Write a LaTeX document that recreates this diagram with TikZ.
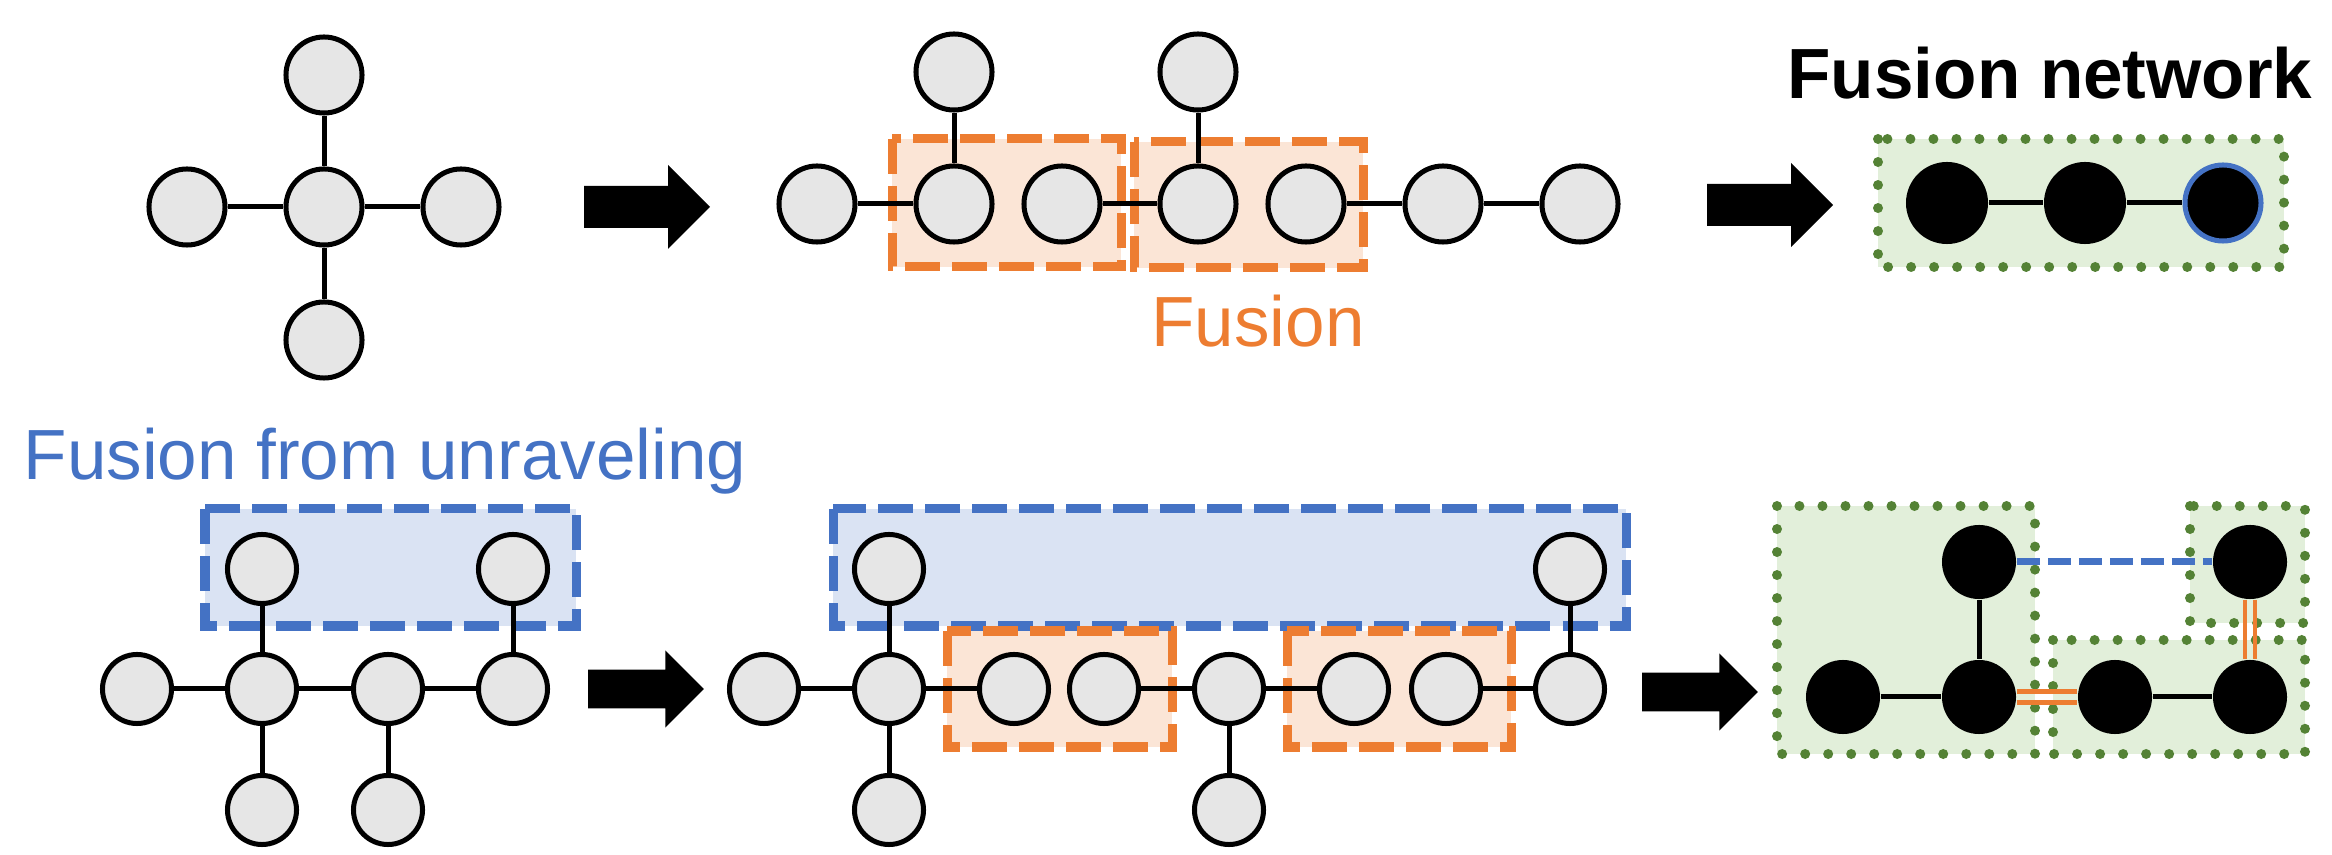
\documentclass[tikz,border=0pt]{standalone}
\usepackage{fontspec}
\setmainfont{Liberation Sans}
\definecolor{orangeC}{HTML}{ED7D31}
\definecolor{orangeF}{HTML}{FBE5D6}
\definecolor{blueC}{HTML}{4472C4}
\definecolor{blueF}{HTML}{DAE3F3}
\definecolor{greenC}{HTML}{548235}
\definecolor{greenF}{HTML}{E2EFDA}
\definecolor{nodegray}{HTML}{E6E6E6}
\begin{document}
\begin{tikzpicture}[x=0.01cm,y=-0.01cm,
  qubit/.style={circle,draw=black,fill=nodegray,line width=0.05cm,minimum size=0.76cm,inner sep=0pt},
  qsmall/.style={qubit,minimum size=0.69cm},
  fnode/.style={circle,fill=black,minimum size=0.82cm,inner sep=0pt},
  fsmall/.style={fnode,minimum size=0.74cm},
  link/.style={line width=0.05cm},
  obox/.style={draw=orangeC,fill=orangeF,line width=0.09cm,dash pattern=on 0.35cm off 0.12cm},
  bbox/.style={draw=blueC,fill=blueF,line width=0.09cm,dash pattern=on 0.35cm off 0.12cm},
  gbox/.style={draw=greenC,fill=greenF,line width=0.1cm,dash pattern=on 0cm off 0.23cm,line cap=round},
  unravel/.style={draw=blueC,line width=0.07cm,dash pattern=on 0.23cm off 0.08cm},
  fuseline/.style={draw=orangeC,line width=0.042cm},
  label/.style={font=\fontsize{20.2}{24}\selectfont,anchor=base,inner sep=0pt},
  barrow/.pic={\fill[black] (0,-21) -- (84,-21) -- (84,-42) -- (126,0) -- (84,42) -- (84,21) -- (0,21) -- cycle;}
]
\useasboundingbox (0,0) rectangle (2332,855);

% ---------- top row: star graph ----------
\node[qubit] (a0) at (324,207) {};
\node[qubit] (aL) at (187,207) {};
\node[qubit] (aR) at (461,207) {};
\node[qubit] (aT) at (324,75) {};
\node[qubit] (aB) at (324,340) {};
\draw[link] (aL) -- (a0) -- (aR);
\draw[link] (aT) -- (a0) -- (aB);

\pic at (584,207) {barrow};

% ---------- top row: unrolled chain with fusions ----------
\draw[obox] (892,139) rectangle (1121,267);
\draw[obox] (1134,142) rectangle (1363,268);
\node[qubit] (c1) at (817,204) {};
\node[qubit] (c2) at (954,204) {};
\node[qubit] (c3) at (1062,204) {};
\node[qubit] (c4) at (1198,204) {};
\node[qubit] (c5) at (1306,204) {};
\node[qubit] (c6) at (1443,204) {};
\node[qubit] (c7) at (1580,204) {};
\node[qubit] (t2) at (954,72) {};
\node[qubit] (t4) at (1198,72) {};
\draw[link] (c1) -- (c2);
\draw[link] (c3) -- (c4);
\draw[link] (c5) -- (c6) -- (c7);
\draw[link] (t2) -- (c2);
\draw[link] (t4) -- (c4);
\node[label,text=orangeC] (lblFusion) at (1258,347) {Fusion};

\pic at (1707,205) {barrow};

% ---------- top row: fusion network ----------
\node[label,font=\fontsize{20.2}{24}\selectfont\bfseries] (lblNet) at (2050,99) {Fusion network};
\draw[gbox] (1878,139) rectangle (2284,267);
\node[fnode] (f1) at (1947,203) {};
\node[fnode] (f2) at (2085,203) {};
\node[fnode,draw=blueC,line width=0.05cm,minimum size=0.76cm] (f3) at (2223,203) {};
\draw[link] (f1) -- (f2) -- (f3);

% ---------- bottom row: tree ----------
\node[label,text=blueC] (lblUnravel) at (385,480) {Fusion from unraveling};
\draw[bbox] (205,509) rectangle (576,626);
\node[qsmall] (m1) at (137,689) {};
\node[qsmall] (m2) at (262,689) {};
\node[qsmall] (m3) at (388,689) {};
\node[qsmall] (m4) at (513,689) {};
\node[qsmall] (u2) at (262,569) {};
\node[qsmall] (u4) at (513,569) {};
\node[qsmall] (d2) at (262,810) {};
\node[qsmall] (d3) at (388,810) {};
\draw[link] (m1) -- (m2) -- (m3) -- (m4);
\draw[link] (u2) -- (m2) -- (d2);
\draw[link] (u4) -- (m4);
\draw[link] (m3) -- (d3);

\pic[scale=0.92] at (588,689) {barrow};

% ---------- bottom row: unraveled tree ----------
\draw[bbox] (833,509) rectangle (1626,626);
\draw[obox] (947,631) rectangle (1172,747);
\draw[obox] (1287,631) rectangle (1511,747);
\node[qsmall] (n1) at (764,689) {};
\node[qsmall] (n2) at (889,689) {};
\node[qsmall] (n3) at (1014,689) {};
\node[qsmall] (n4) at (1104,689) {};
\node[qsmall] (n5) at (1229,689) {};
\node[qsmall] (n6) at (1354,689) {};
\node[qsmall] (n7) at (1446,689) {};
\node[qsmall] (n8) at (1570,689) {};
\node[qsmall] (v2) at (889,569) {};
\node[qsmall] (v8) at (1570,569) {};
\node[qsmall] (w2) at (889,810) {};
\node[qsmall] (w5) at (1229,810) {};
\draw[link] (n1) -- (n2) -- (n3);
\draw[link] (n4) -- (n5) -- (n6);
\draw[link] (n7) -- (n8);
\draw[link] (v2) -- (n2) -- (w2);
\draw[link] (v8) -- (n8);
\draw[link] (n5) -- (w5);

\pic[scale=0.92] at (1642,692) {barrow};

% ---------- bottom row: fusion network ----------
\draw[gbox] (1777,506) rectangle (2035,754);
\draw[gbox] (2053,640) rectangle (2305,754);
\draw[gbox] (2190,506) rectangle (2305,623);
\node[fsmall] (p1) at (1979,562) {};
\node[fsmall] (p2) at (1843,697) {};
\node[fsmall] (p3) at (1979,697) {};
\node[fsmall] (q1) at (2115,697) {};
\node[fsmall] (q2) at (2250,697) {};
\node[fsmall] (r1) at (2250,562) {};
\draw[link] (p1) -- (p3);
\draw[link] (p2) -- (p3);
\draw[link] (q1) -- (q2);
\draw[unravel] (p1) -- (r1);
\draw[fuseline] ([yshift=0.055cm]p3.east) -- ([yshift=0.055cm]q1.west);
\draw[fuseline] ([yshift=-0.055cm]p3.east) -- ([yshift=-0.055cm]q1.west);
\draw[fuseline] ([xshift=-0.05cm]r1.south) -- ([xshift=-0.05cm]q2.north);
\draw[fuseline] ([xshift=0.05cm]r1.south) -- ([xshift=0.05cm]q2.north);
\end{tikzpicture}
\end{document}
